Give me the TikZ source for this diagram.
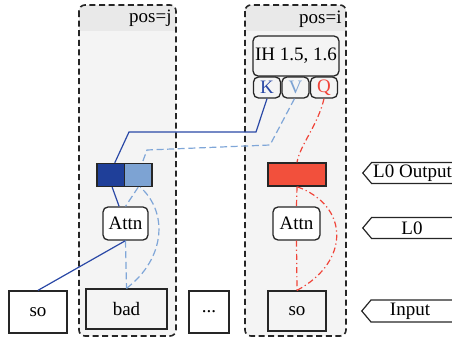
\documentclass[tikz,border=0pt]{standalone}
\usepackage{fontspec}
\setmainfont{Liberation Serif}
\usetikzlibrary{shapes.symbols,calc}

\definecolor{kblue}{HTML}{2A48A6}
\definecolor{kfill}{HTML}{1F3F99}
\definecolor{vblue}{HTML}{7FA6D8}
\definecolor{vfill}{HTML}{7DA3D3}
\definecolor{qred}{HTML}{F0453A}
\definecolor{qfill}{HTML}{F2503C}
\definecolor{colbody}{HTML}{F4F4F4}
\definecolor{colhead}{HTML}{E9E9E9}

\tikzset{
  frame/.style={draw=black!85, line width=0.8pt, dash pattern=on 3pt off 1.8pt, rounded corners=3pt},
  box/.style={draw=black!85, line width=0.65pt, inner sep=0pt},
  rbox/.style={box, rounded corners=2.5pt},
  kvq/.style={rbox, minimum width=13.5pt, minimum height=10.5pt},
  vec/.style={box, minimum height=11.5pt},
  tok/.style={box, minimum height=21pt},
  tag/.style={signal, signal to=west, signal from=nowhere, signal pointer angle=100,
              draw=black!85, line width=0.6pt, minimum height=10.5pt, minimum width=50pt,
              inner sep=0pt, anchor=west},
  taglabel/.style={inner sep=0pt},
  kline/.style={draw=kblue, line width=0.6pt},
  vline/.style={draw=vblue, line width=0.6pt, dash pattern=on 3.5pt off 1.8pt},
  qline/.style={draw=qred, line width=0.6pt, dash pattern=on 3pt off 1.5pt on 0.6pt off 1.5pt},
}

\begin{document}
\begin{tikzpicture}[x=0.5pt, y=-0.5pt, font=\fontsize{9.5}{10}\selectfont]
\useasboundingbox (0,0) rectangle (452,338);

% position columns
\foreach \l/\r in {79/176, 245/346} {
  \begin{scope}
    \clip[rounded corners=3pt] (\l,5) rectangle (\r,336);
    \fill[colbody] (\l,5) rectangle (\r,336);
    \fill[colhead] (\l,5) rectangle (\r,31);
  \end{scope}
  \draw[frame] (\l,5) rectangle (\r,336);
}
\node[anchor=east, inner sep=0pt] (posj) at (172,18) {pos=j};
\node[anchor=east, inner sep=0pt] (posi) at (342,19) {pos=i};

% induction head and its K/V/Q ports
\node[rbox, minimum width=43pt, minimum height=20pt] (ih) at (296,56) {IH 1.5, 1.6};
\node[kvq, text=kblue] (k) at (267,87.5) {K};
\node[kvq, text=vfill] (v) at (295.5,87.5) {V};
\node[kvq, text=qred] (q) at (324,87.5) {Q};

% layer 0 outputs
\node[vec, fill=kfill, minimum width=13.75pt] (kvec) at (110.75,175) {};
\node[vec, fill=vfill, minimum width=13.75pt] (vvec) at (138.25,175) {};
\node[vec, fill=qfill, minimum width=29pt] (qvec) at (297,174.5) {};

% layer 0 attention
\node[rbox, fill=white, minimum width=22.5pt, minimum height=16.5pt] (attnj) at (125.5,223.5) {Attn};
\node[rbox, fill=white, minimum width=23.5pt, minimum height=16.5pt] (attni) at (296.5,223.5) {Attn};

% input tokens
\node[tok, fill=white, minimum width=29pt] (soj) at (38,312) {so};
\node[tok, minimum width=40.5pt, minimum height=20pt] (bad) at (126.5,309) {bad};
\node[tok, fill=white, minimum width=20pt] (dots) at (209,312) {...};
\node[tok, minimum width=29pt, minimum height=20pt] (soi) at (297,311) {so};

% layer tags (they run off the right edge)
\node[tag] (tagout) at (362,173) {};
\node[taglabel] (tagouttext) at (412.5,173) {L0 Output};
\node[tag] (tagl0) at (362,228) {};
\node[taglabel] (tagl0text) at (412,228) {L0};
\node[tag, minimum height=11pt] (tagin) at (361,311) {};
\node[taglabel] (tagintext) at (410,311) {Input};

% key path
\draw[kline] (k.south) -- (256,132) -- (129,132) -- ([xshift=2pt]kvec.north);
\draw[kline] ([xshift=0.7pt]kvec.south) -- ([xshift=-3.2pt]attnj.north);
\draw[kline] (attnj.south) -- (soj.north);

% value path
\draw[vline] ([xshift=-0.5pt]v.south) -- (270,145) -- (147,150) -- ([xshift=2pt]vvec.north);
\draw[vline] (vvec.south) -- (attnj.north);
\draw[vline] (attnj.south) -- (bad.north);
\draw[vline] (bad.north) .. controls (166,258) and (168,212) .. ([xshift=1pt]vvec.south);

% query path
\draw[qline] (q.south) .. controls (318,125) and (300,145) .. (qvec.north);
\draw[qline] (qvec.south) -- (attni.north);
\draw[qline] (attni.south) -- (soi.north);
\draw[qline] (soi.north) .. controls (350,262) and (350,206) .. (qvec.south);
\end{tikzpicture}
\end{document}
